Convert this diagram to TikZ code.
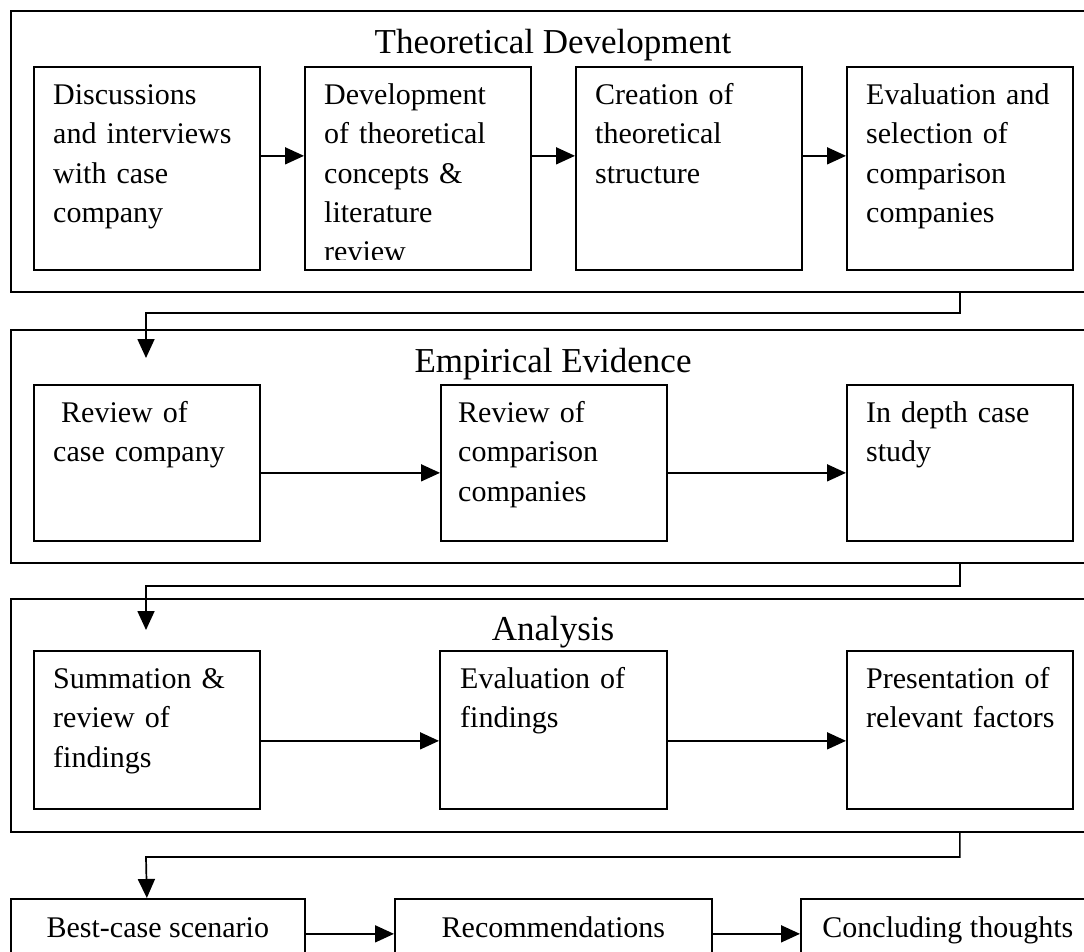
\documentclass[tikz,border=0pt]{standalone}
\usepackage{fontspec}
\setmainfont{Liberation Serif}
\usetikzlibrary{arrows.meta,calc}
\begin{document}
\begin{tikzpicture}[x=1pt,y=-1pt,
  frame/.style={draw, line width=1.8pt, inner sep=0pt, anchor=north west, minimum width=1090pt},
  box/.style={draw, line width=1.7pt, inner sep=0pt, anchor=north west},
  body/.style={font=\fontsize{30}{39.4}\selectfont},
  txt/.style={body, inner sep=0pt, anchor=north west, align=left, text width=210pt},
  title/.style={font=\fontsize{35}{42}\selectfont, anchor=base, inner sep=0pt},
  arr/.style={line width=1.7pt, -{Triangle[length=19pt,width=17pt]}},
  endbox/.style={box, body, text height=39pt, text depth=31pt}]

% page area
\clip (0,0) rectangle (1084,951);

% ---------- Theoretical Development ----------
\node[frame, minimum height=281pt] (fT) at (10,10) {};
\node[title] (tT) at (553,53) {Theoretical Development};
\node[box, minimum width=226pt, minimum height=203pt] (t1) at (33,66) {};
\node[box, minimum width=226pt, minimum height=203pt] (t2) at (304,66) {};
\node[box, minimum width=226pt, minimum height=203pt] (t3) at (575,66) {};
\node[box, minimum width=226pt, minimum height=203pt] (t4) at (846,66) {};
\node[txt] (t1x) at ([xshift=20pt]t1.north west)
  {\rule{0pt}{38pt}Discussions\\and interviews\\with case\\company};
\begin{scope}
  \clip (t2.north west) rectangle ([yshift=11pt]t2.south east);
  \node[txt] (t2x) at ([xshift=20pt]t2.north west)
    {\rule{0pt}{38pt}Development\\of theoretical\\concepts \&\\literature\\review};
\end{scope}
\node[txt] (t3x) at ([xshift=20pt]t3.north west)
  {\rule{0pt}{38pt}Creation of\\theoretical\\structure};
\node[txt] (t4x) at ([xshift=20pt]t4.north west)
  {\rule{0pt}{38pt}Evaluation and\\selection of\\comparison\\companies};
\draw[arr] ([yshift=12.5pt]t1.east) -- ([yshift=12.5pt]t2.west);
\draw[arr] ([yshift=12.5pt]t2.east) -- ([yshift=12.5pt]t3.west);
\draw[arr] ([yshift=12.5pt]t3.east) -- ([yshift=12.5pt]t4.west);

% ---------- Empirical Evidence ----------
\node[frame, minimum height=233pt] (fE) at (10,329) {};
\node[title] (tE) at (553,372) {Empirical Evidence};
\node[box, minimum width=226pt, minimum height=156pt] (e1) at (33,384) {};
\node[box, minimum width=226pt, minimum height=156pt] (e2) at (440,384) {};
\node[box, minimum width=226pt, minimum height=156pt] (e3) at (846,384) {};
\node[txt] (e1x) at ([xshift=20pt]e1.north west)
  {\rule{0pt}{38pt}\hspace{8pt}Review of\\case company};
\node[txt] (e2x) at ([xshift=18pt]e2.north west)
  {\rule{0pt}{38pt}Review of\\comparison\\companies};
\node[txt] (e3x) at ([xshift=20pt]e3.north west)
  {\rule{0pt}{38pt}In depth case\\study};
\draw[arr] ([yshift=-10pt]e1.east) -- ([yshift=-10pt]e2.west);
\draw[arr] ([yshift=-10pt]e2.east) -- ([yshift=-10pt]e3.west);

% ---------- Analysis ----------
\node[frame, minimum height=233pt] (fA) at (10,598) {};
\node[title] (tA) at (553,640) {Analysis};
\node[box, minimum width=226pt, minimum height=158pt] (a1) at (33,650) {};
\node[box, minimum width=227pt, minimum height=158pt] (a2) at (439,650) {};
\node[box, minimum width=226pt, minimum height=158pt] (a3) at (846,650) {};
\node[txt] (a1x) at ([xshift=20pt]a1.north west)
  {\rule{0pt}{38pt}Summation \&\\review of\\findings};
\node[txt] (a2x) at ([xshift=21pt]a2.north west)
  {\rule{0pt}{38pt}Evaluation of\\findings};
\node[txt] (a3x) at ([xshift=20pt]a3.north west)
  {\rule{0pt}{38pt}Presentation of\\relevant factors};
\draw[arr] ([yshift=-11pt]a1.east) -- ([yshift=-11pt]a2.west);
\draw[arr] ([yshift=-11pt]a2.east) -- ([yshift=-11pt]a3.west);

% ---------- Final stage ----------
\node[endbox, minimum width=294pt] (b1) at (10,898) {Best-case scenario};
\node[endbox, minimum width=317pt] (b2) at (394,898) {Recommendations};
\node[endbox, minimum width=294pt] (b3) at (800,898) {Concluding thoughts};
\draw[arr] (b1.east) -- (b2.west);
\draw[arr] (b2.east) -- (b3.west);

% ---------- links between stages ----------
\coordinate (k1) at (146,358);
\coordinate (k2) at (146,630);
\coordinate (m1) at (146,313);
\coordinate (m2) at (146,586);
\coordinate (m3) at (146,857);
\draw[arr] (fT.south -| t4.center) |- (m1) -- (k1);
\draw[arr] (fE.south -| e3.center) |- (m2) -- (k2);
\draw[arr] (fA.south -| a3.center) |- (m3) -- (b1.north -| a1.center);
\end{tikzpicture}
\end{document}
